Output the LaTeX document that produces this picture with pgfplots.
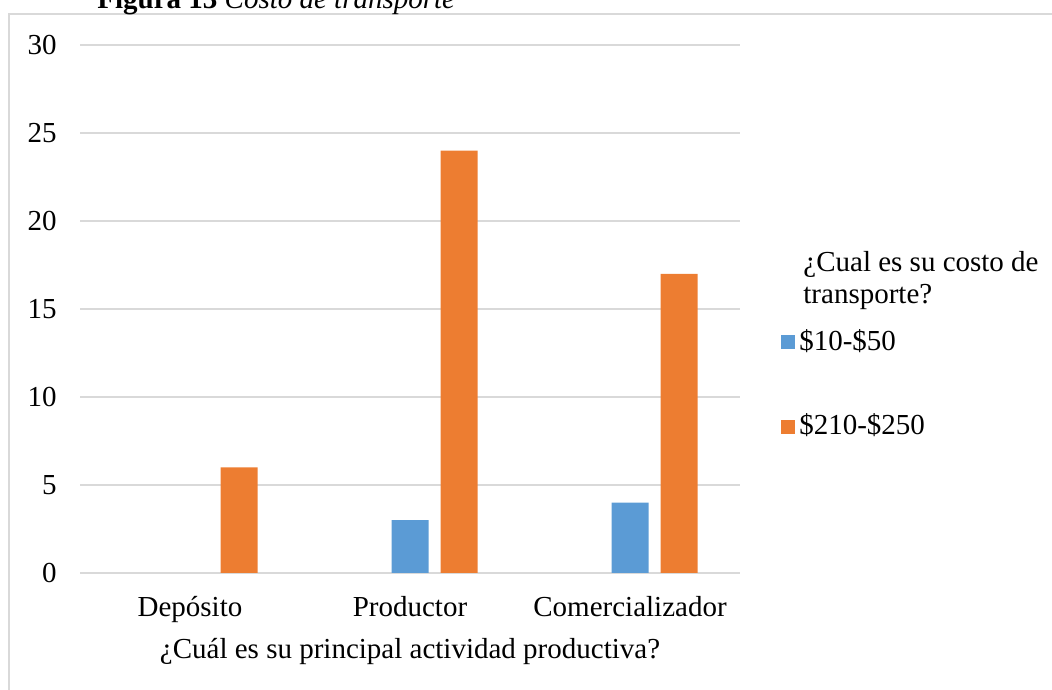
\documentclass[border=0pt]{standalone}
\usepackage{fontspec}
\setmainfont{Liberation Serif}
\usepackage{pgfplots}
\pgfplotsset{compat=1.18}
\definecolor{serA}{HTML}{5B9BD5}
\definecolor{serB}{HTML}{ED7D31}
\definecolor{gridgray}{HTML}{D9D9D9}
\newcommand{\chartfont}{\fontsize{14.5}{16}\selectfont}

\begin{document}
\chartfont
\begin{tikzpicture}
\useasboundingbox (0,0) rectangle (526pt,344.5pt);
% outer frame of the chart area
\draw[gridgray, line width=0.75pt] (4.5pt,-20pt) rectangle (560pt,337.5pt);
% caption line above the frame
\node[anchor=base west, inner sep=0pt] at (48.5pt,340pt)
  {\textbf{Figura 13} \textit{Costo de transporte}};
\begin{axis}[
  at={(40pt,58pt)}, anchor=south west,
  scale only axis, width=330pt, height=264pt,
  xmin=-0.5, xmax=2.5, ymin=0, ymax=30,
  xtick={0,1,2},
  xticklabels={Depósito, Productor, Comercializador},
  ytick={0,5,10,15,20,25,30},
  axis line style={draw=none},
  major tick length=0pt,
  ymajorgrids,
  grid style={gridgray, line width=0.75pt},
  /pgf/number format/assume math mode=true,
  tick label style={font=\chartfont},
  yticklabel style={anchor=east, inner sep=0pt, xshift=-11.5pt},
  xticklabel style={anchor=base, inner sep=0pt, yshift=-22pt},
  xlabel={¿Cuál es su principal actividad productiva?},
  xlabel style={at={(axis description cs:0.5,0)}, anchor=base,
    inner sep=0pt, yshift=-42.5pt, font=\chartfont},
  legend style={draw=none, fill=none, font=\chartfont,
    at={(axis description cs:1.062,0.4695)}, anchor=north west,
    row sep=25.5pt, column sep=0pt, inner sep=0pt},
  legend cell align=left,
  legend image code/.code={\fill[#1] (0pt,-3.5pt) rectangle (7pt,3.5pt);},
]
\addplot[ybar, fill=serA, draw=none, bar width=18.5pt, bar shift=0pt]
  coordinates {(1,3) (2,4)};
\addplot[ybar, fill=serB, draw=none, bar width=18.5pt, bar shift=24.5pt]
  coordinates {(0,6) (1,24) (2,17)};
\legend{\$10-\$50, \$210-\$250}
\end{axis}
% legend heading
\node[anchor=base west, inner sep=0pt] at (401.5pt,208.5pt) {¿Cual es su costo de};
\node[anchor=base west, inner sep=0pt] at (401.5pt,192.5pt) {transporte?};
\end{tikzpicture}
\end{document}
